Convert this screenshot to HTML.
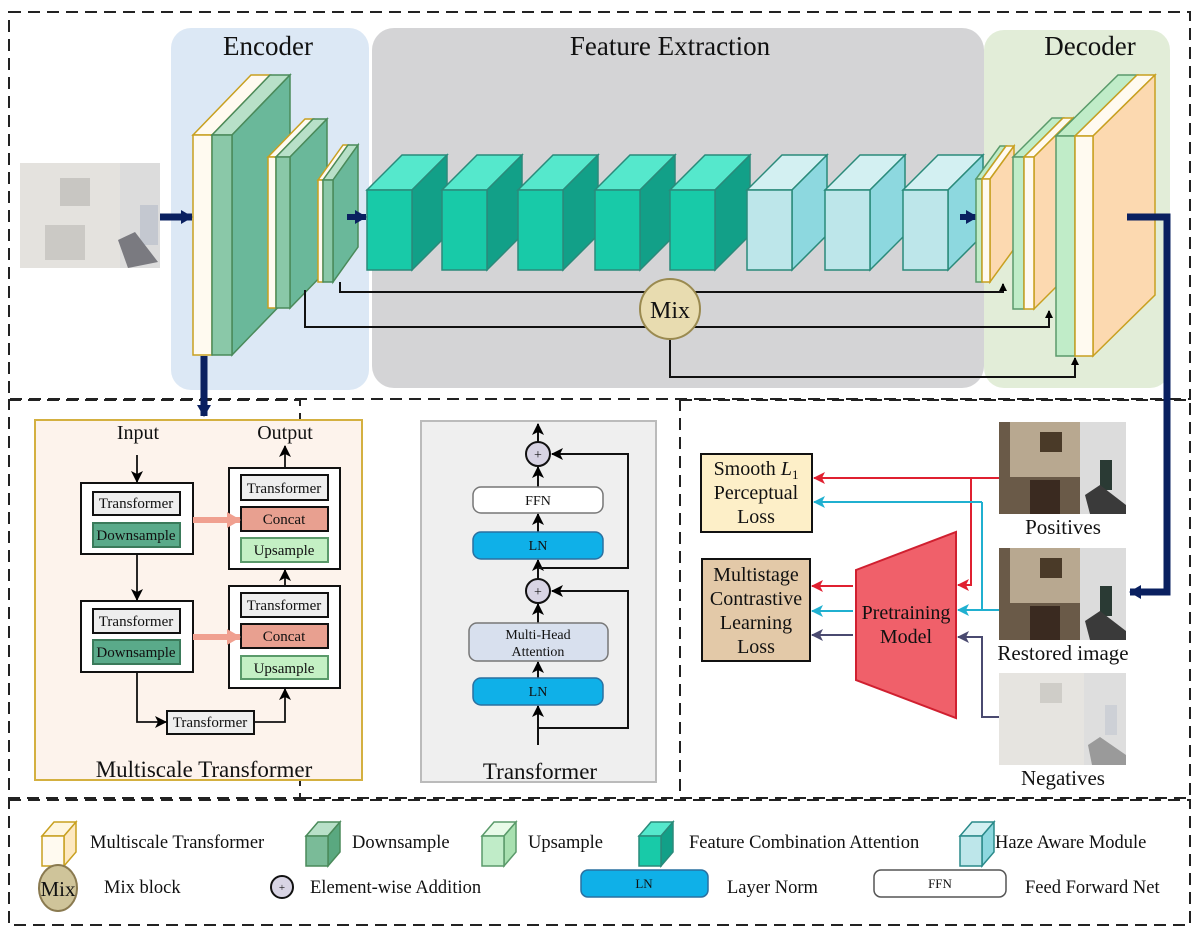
<!DOCTYPE html>
<html><head><meta charset="utf-8"><style>
html,body{margin:0;padding:0;background:#fff;}
svg{display:block;}
text{font-family:"Liberation Serif",serif;fill:#111;}
</style></head><body>
<svg width="1200" height="935" viewBox="0 0 1200 935" xmlns="http://www.w3.org/2000/svg">
<defs>
<marker id="ab" markerWidth="8" markerHeight="8" refX="7" refY="4" orient="auto" markerUnits="userSpaceOnUse"><path d="M0,0 L8,4 L0,8 z" fill="#000"/></marker>
<marker id="ab2" markerWidth="12" markerHeight="12" refX="11" refY="6" orient="auto" markerUnits="userSpaceOnUse"><path d="M0,0 L12,6 L0,12 L3,6 z" fill="#000"/></marker>
<marker id="ar" markerWidth="12" markerHeight="12" refX="11" refY="6" orient="auto" markerUnits="userSpaceOnUse"><path d="M0,0 L12,6 L0,12 L3,6 z" fill="#e02030"/></marker>
<marker id="ac" markerWidth="12" markerHeight="12" refX="11" refY="6" orient="auto" markerUnits="userSpaceOnUse"><path d="M0,0 L12,6 L0,12 L3,6 z" fill="#20b0d0"/></marker>
<marker id="as" markerWidth="12" markerHeight="12" refX="11" refY="6" orient="auto" markerUnits="userSpaceOnUse"><path d="M0,0 L12,6 L0,12 L3,6 z" fill="#4a4a70"/></marker>
<marker id="an" markerWidth="12" markerHeight="14" refX="11" refY="7" orient="auto" markerUnits="userSpaceOnUse"><path d="M0,0 L12,7 L0,14 z" fill="#0a2060"/></marker>
<marker id="ap" markerWidth="14" markerHeight="16" refX="13" refY="8" orient="auto" markerUnits="userSpaceOnUse"><path d="M0,0 L14,8 L0,16 z" fill="#f0a090"/></marker>
</defs>

<g fill="none" stroke="#222" stroke-width="2" stroke-dasharray="12,7">
<rect x="9" y="12" width="1181" height="387"/>
<rect x="9" y="400" width="291" height="398"/>
<rect x="680" y="400" width="510" height="398"/>
<line x1="300" y1="798" x2="680" y2="798"/>
<rect x="9" y="800" width="1181" height="125"/>
</g>

<rect x="171" y="28" width="198" height="362" rx="20" fill="#dce8f5"/>
<rect x="372" y="28" width="612" height="360" rx="22" fill="#d4d4d6"/>
<rect x="984" y="30" width="186" height="358" rx="20" fill="#e2edd8"/>
<text x="268" y="55" font-size="27" text-anchor="middle">Encoder</text>
<text x="670" y="55" font-size="27" text-anchor="middle">Feature Extraction</text>
<text x="1090" y="55" font-size="27" text-anchor="middle">Decoder</text>

<rect x="20" y="163" width="140" height="105" fill="#dcdcdc"/>
<rect x="20" y="163" width="100" height="105" fill="#e4e2de"/>
<rect x="60" y="178" width="30" height="28" fill="#c8c6c2"/>
<rect x="140" y="205" width="18" height="40" fill="#c4c8d0"/>
<rect x="45" y="225" width="40" height="35" fill="#cbc9c5"/>
<path d="M118,240 L135,232 L158,262 L128,268 z" fill="#7a7a80"/>
<line x1="160" y1="217" x2="192" y2="217" stroke="#0a2060" stroke-width="7" marker-end="url(#an)"/>

<g stroke-width="1.5">
<polygon points="193,135 251,75 270,75 212,135" fill="#fffaf0" stroke="#c8a020"/>
<rect x="193" y="135" width="19" height="220" fill="#fffaf0" stroke="#c8a020"/>
<polygon points="212,135 270,75 290,75 232,135" fill="#b8e0c8" stroke="#4a8a5a"/>
<polygon points="232,135 290,75 290,295 232,355" fill="#6ab89a" stroke="#4a8a5a"/>
<rect x="212" y="135" width="20" height="220" fill="#8ac8a8" stroke="#4a8a5a"/>
<polygon points="268,157 305,119 313,119 276,157" fill="#fffaf0" stroke="#c8a020"/>
<rect x="268" y="157" width="8" height="151" fill="#fffaf0" stroke="#c8a020"/>
<polygon points="276,157 313,119 327,119 290,157" fill="#b8e0c8" stroke="#4a8a5a"/>
<polygon points="290,157 327,119 327,270 290,308" fill="#6ab89a" stroke="#4a8a5a"/>
<rect x="276" y="157" width="14" height="151" fill="#8ac8a8" stroke="#4a8a5a"/>
<polygon points="318,180 343,145 348,145 323,180" fill="#fffaf0" stroke="#c8a020"/>
<rect x="318" y="180" width="5" height="102" fill="#fffaf0" stroke="#c8a020"/>
<polygon points="323,180 348,145 358,145 333,180" fill="#b8e0c8" stroke="#4a8a5a"/>
<polygon points="333,180 358,145 358,247 333,282" fill="#6ab89a" stroke="#4a8a5a"/>
<rect x="323" y="180" width="10" height="102" fill="#8ac8a8" stroke="#4a8a5a"/>
</g>
<line x1="347" y1="217" x2="366" y2="217" stroke="#0a2060" stroke-width="6" marker-end="url(#an)"/>

<g stroke="#2a8a7a" stroke-width="1.5">
<g id="tc">
<polygon points="367,190 402,155 447,155 412,190" fill="#55e8cc"/>
<polygon points="412,190 447,155 447,235 412,270" fill="#12a088"/>
<rect x="367" y="190" width="45" height="80" fill="#18caa8"/>
</g>
<use href="#tc" x="75"/>
<use href="#tc" x="151"/>
<use href="#tc" x="228"/>
<use href="#tc" x="303"/>
<g id="hc">
<polygon points="747,190 782,155 827,155 792,190" fill="#d3f0f2"/>
<polygon points="792,190 827,155 827,235 792,270" fill="#8dd8df"/>
<rect x="747" y="190" width="45" height="80" fill="#bde6ea"/>
</g>
<use href="#hc" x="78"/>
<use href="#hc" x="156"/>
</g>
<line x1="960" y1="217" x2="977" y2="217" stroke="#0a2060" stroke-width="6" marker-end="url(#an)"/>

<g stroke-width="1.5">
<polygon points="976,179 1000,146 1006,146 982,179" fill="#c0ecc8" stroke="#5a9a6a"/>
<rect x="976" y="179" width="6" height="103" fill="#c0ecc8" stroke="#5a9a6a"/>
<polygon points="982,179 1006,146 1014,146 990,179" fill="#fffaf0" stroke="#c8a020"/>
<polygon points="990,179 1014,146 1014,249 990,282" fill="#fcd9b0" stroke="#c8a020"/>
<rect x="982" y="179" width="8" height="103" fill="#fffaf0" stroke="#c8a020"/>
<polygon points="1013,157 1052,118 1063,118 1024,157" fill="#c0ecc8" stroke="#5a9a6a"/>
<rect x="1013" y="157" width="11" height="152" fill="#c0ecc8" stroke="#5a9a6a"/>
<polygon points="1024,157 1063,118 1073,118 1034,157" fill="#fffaf0" stroke="#c8a020"/>
<polygon points="1034,157 1073,118 1073,270 1034,309" fill="#fcd9b0" stroke="#c8a020"/>
<rect x="1024" y="157" width="10" height="152" fill="#fffaf0" stroke="#c8a020"/>
<polygon points="1056,136 1118,75 1137,75 1075,136" fill="#c0ecc8" stroke="#5a9a6a"/>
<rect x="1056" y="136" width="19" height="220" fill="#c0ecc8" stroke="#5a9a6a"/>
<polygon points="1075,136 1137,75 1155,75 1093,136" fill="#fffaf0" stroke="#c8a020"/>
<polygon points="1093,136 1155,75 1155,295 1093,356" fill="#fcd9b0" stroke="#c8a020"/>
<rect x="1075" y="136" width="18" height="220" fill="#fffaf0" stroke="#c8a020"/>
</g>

<g fill="none" stroke="#111" stroke-width="2">
<polyline points="340,282 340,292 1003,292 1003,284" marker-end="url(#ab)"/>
<polyline points="305,290 305,327 1049,327 1049,311" marker-end="url(#ab)"/>
<polyline points="670,340 670,377 1075,377 1075,358" marker-end="url(#ab)"/>
</g>
<circle cx="670" cy="309" r="30" fill="#e8dcb0" stroke="#9a8a50" stroke-width="2"/>
<text x="670" y="318" font-size="24" text-anchor="middle">Mix</text>

<line x1="204" y1="356" x2="204" y2="416" stroke="#0a2060" stroke-width="7" marker-end="url(#an)"/>
<polyline points="1127,217 1167,217 1167,592 1130,592" fill="none" stroke="#0a2060" stroke-width="7" marker-end="url(#an)"/>

<rect x="35" y="420" width="327" height="360" fill="#fdf3ec" stroke="#d4b040" stroke-width="2"/>
<text x="138" y="439" font-size="20" text-anchor="middle">Input</text>
<text x="285" y="439" font-size="20" text-anchor="middle">Output</text>
<g stroke="#111" stroke-width="2">
<rect x="81" y="483" width="112" height="71" fill="#fff"/>
<rect x="93" y="492" width="87" height="23" fill="#eeeeee"/>
<rect x="93" y="523" width="87" height="24" fill="#5aaa8a" stroke="#3a7a5a"/>
<rect x="81" y="601" width="112" height="71" fill="#fff"/>
<rect x="93" y="609" width="87" height="24" fill="#eeeeee"/>
<rect x="93" y="640" width="87" height="24" fill="#5aaa8a" stroke="#3a7a5a"/>
<rect x="229" y="468" width="111" height="101" fill="#fff"/>
<rect x="241" y="475" width="87" height="25" fill="#eeeeee"/>
<rect x="241" y="507" width="87" height="24" fill="#e8a090"/>
<rect x="241" y="538" width="87" height="24" fill="#c4f0c4" stroke="#5a9a6a"/>
<rect x="229" y="586" width="111" height="102" fill="#fff"/>
<rect x="241" y="593" width="87" height="24" fill="#eeeeee"/>
<rect x="241" y="624" width="87" height="24" fill="#e8a090"/>
<rect x="241" y="656" width="87" height="23" fill="#c4f0c4" stroke="#5a9a6a"/>
<rect x="167" y="711" width="87" height="23" fill="#eeeeee"/>
</g>
<g font-size="15" text-anchor="middle">
<text x="136" y="508">Transformer</text>
<text x="136" y="540">Downsample</text>
<text x="136" y="626">Transformer</text>
<text x="136" y="657">Downsample</text>
<text x="284" y="493">Transformer</text>
<text x="284" y="524">Concat</text>
<text x="284" y="555">Upsample</text>
<text x="284" y="610">Transformer</text>
<text x="284" y="641">Concat</text>
<text x="284" y="673">Upsample</text>
<text x="210" y="727">Transformer</text>
</g>
<g fill="none" stroke="#111" stroke-width="1.8">
<line x1="137" y1="455" x2="137" y2="482" marker-end="url(#ab2)"/>
<line x1="137" y1="554" x2="137" y2="600" marker-end="url(#ab2)"/>
<polyline points="137,672 137,722 166,722" marker-end="url(#ab2)"/>
<polyline points="254,722 285,722 285,689" marker-end="url(#ab2)"/>
<line x1="285" y1="586" x2="285" y2="570" marker-end="url(#ab2)"/>
<line x1="285" y1="468" x2="285" y2="446" marker-end="url(#ab2)"/>
</g>
<line x1="193" y1="520" x2="240" y2="520" stroke="#f0a090" stroke-width="6" marker-end="url(#ap)"/>
<line x1="193" y1="637" x2="240" y2="637" stroke="#f0a090" stroke-width="6" marker-end="url(#ap)"/>
<text x="204" y="777" font-size="23" text-anchor="middle">Multiscale Transformer</text>

<rect x="421" y="421" width="235" height="361" fill="#efefef" stroke="#bbb" stroke-width="2"/>
<g fill="none" stroke="#111" stroke-width="2">
<line x1="538" y1="745" x2="538" y2="706" marker-end="url(#ab2)"/>
<polyline points="538,728 628,728 628,591 552,591" marker-end="url(#ab2)"/>
<line x1="538" y1="623" x2="538" y2="604" marker-end="url(#ab2)"/>
<line x1="538" y1="678" x2="538" y2="662" marker-end="url(#ab2)"/>
<line x1="538" y1="579" x2="538" y2="560" marker-end="url(#ab2)"/>
<polyline points="538,568 628,568 628,454 552,454" marker-end="url(#ab2)"/>
<line x1="538" y1="532" x2="538" y2="514" marker-end="url(#ab2)"/>
<line x1="538" y1="487" x2="538" y2="467" marker-end="url(#ab2)"/>
<line x1="538" y1="442" x2="538" y2="424" marker-end="url(#ab2)"/>
</g>
<rect x="473" y="487" width="130" height="26" rx="8" fill="#fff" stroke="#777" stroke-width="1.5"/>
<rect x="473" y="532" width="130" height="27" rx="8" fill="#0fb0e8" stroke="#2a70a0" stroke-width="1.5"/>
<rect x="469" y="623" width="139" height="38" rx="8" fill="#d8e0ee" stroke="#777" stroke-width="1.5"/>
<rect x="473" y="678" width="130" height="27" rx="8" fill="#0fb0e8" stroke="#2a70a0" stroke-width="1.5"/>
<circle cx="538" cy="454" r="12" fill="#d8d4e4" stroke="#111" stroke-width="2"/>
<circle cx="538" cy="591" r="12" fill="#d8d4e4" stroke="#111" stroke-width="2"/>
<g font-size="14" text-anchor="middle">
<text x="538" y="459">+</text><text x="538" y="596">+</text>
<text x="538" y="505">FFN</text>
<text x="538" y="550">LN</text>
<text x="538" y="639">Multi-Head</text>
<text x="538" y="656">Attention</text>
<text x="538" y="696">LN</text>
</g>
<text x="540" y="779" font-size="23" text-anchor="middle">Transformer</text>

<rect x="701" y="454" width="111" height="78" fill="#fdefc8" stroke="#111" stroke-width="2"/>
<rect x="702" y="559" width="108" height="102" fill="#e3c9a8" stroke="#111" stroke-width="2"/>
<g font-size="20" text-anchor="middle">
<text x="756" y="475">Smooth <tspan font-style="italic">L</tspan><tspan font-size="13" dy="4">1</tspan></text>
<text x="756" y="499">Perceptual</text>
<text x="756" y="523">Loss</text>
<text x="756" y="581">Multistage</text>
<text x="756" y="605">Contrastive</text>
<text x="756" y="629">Learning</text>
<text x="756" y="653">Loss</text>
</g>
<polygon points="856,570 956,532 956,718 856,680" fill="#f0606a" stroke="#d02030" stroke-width="2"/>
<text x="906" y="619" font-size="20" text-anchor="middle">Pretraining</text>
<text x="906" y="643" font-size="20" text-anchor="middle">Model</text>

<g>
<rect x="999" y="422" width="127" height="92" fill="#6a5a48"/>
<rect x="1010" y="422" width="70" height="55" fill="#b8a890"/>
<rect x="1080" y="422" width="46" height="92" fill="#dcdcdc"/>
<rect x="1040" y="432" width="22" height="20" fill="#4a3a28"/>
<rect x="1030" y="480" width="30" height="34" fill="#3a2a20"/>
<rect x="1100" y="460" width="12" height="30" fill="#2a3a34"/>
<path d="M1085,495 L1100,485 L1126,505 L1126,514 L1090,514 z" fill="#3a3a3a"/>
</g>
<g>
<rect x="999" y="548" width="127" height="92" fill="#6a5a48"/>
<rect x="1010" y="548" width="70" height="55" fill="#b8a890"/>
<rect x="1080" y="548" width="46" height="92" fill="#dcdcdc"/>
<rect x="1040" y="558" width="22" height="20" fill="#4a3a28"/>
<rect x="1030" y="606" width="30" height="34" fill="#3a2a20"/>
<rect x="1100" y="586" width="12" height="30" fill="#2a3a34"/>
<path d="M1085,621 L1100,611 L1126,631 L1126,640 L1090,640 z" fill="#3a3a3a"/>
</g>
<g>
<rect x="999" y="673" width="127" height="92" fill="#dedede"/>
<rect x="999" y="673" width="85" height="92" fill="#e6e4e0"/>
<rect x="1040" y="683" width="22" height="20" fill="#cfcdc8"/>
<rect x="1105" y="705" width="12" height="30" fill="#cdd0d6"/>
<path d="M1088,745 L1100,737 L1126,755 L1126,765 L1092,765 z" fill="#9a9a9a"/>
</g>
<g font-size="21" text-anchor="middle">
<text x="1063" y="534">Positives</text>
<text x="1063" y="660">Restored image</text>
<text x="1063" y="785">Negatives</text>
</g>

<g fill="none" stroke-width="2">
<polyline points="999,478 814,478" stroke="#e02030" marker-end="url(#ar)"/>
<polyline points="971,478 971,585 958,585" stroke="#e02030" marker-end="url(#ar)"/>
<polyline points="982,502 814,502" stroke="#20b0d0" marker-end="url(#ac)"/>
<polyline points="982,502 982,610" stroke="#20b0d0"/>
<polyline points="999,610 958,610" stroke="#20b0d0" marker-end="url(#ac)"/>
<polyline points="999,717 982,717 982,637 958,637" stroke="#4a4a70" marker-end="url(#as)"/>
<line x1="853" y1="586" x2="812" y2="586" stroke="#e02030" marker-end="url(#ar)"/>
<line x1="853" y1="611" x2="812" y2="611" stroke="#20b0d0" marker-end="url(#ac)"/>
<line x1="853" y1="635" x2="812" y2="635" stroke="#4a4a70" marker-end="url(#as)"/>
</g>

<g stroke-width="1.5">
<g transform="translate(42,822)">
<polygon points="0,14 12,0 34,0 22,14" fill="#fff6e0" stroke="#c8a020"/>
<polygon points="22,14 34,0 34,30 22,44" fill="#fde8c0" stroke="#c8a020"/>
<rect x="0" y="14" width="22" height="30" fill="#fffaf0" stroke="#c8a020"/>
</g>
<g transform="translate(306,822)">
<polygon points="0,14 12,0 34,0 22,14" fill="#b8e0c8" stroke="#4a8a5a"/>
<polygon points="22,14 34,0 34,30 22,44" fill="#5aa880" stroke="#4a8a5a"/>
<rect x="0" y="14" width="22" height="30" fill="#7abb98" stroke="#4a8a5a"/>
</g>
<g transform="translate(482,822)">
<polygon points="0,14 12,0 34,0 22,14" fill="#e8fae8" stroke="#5a9a6a"/>
<polygon points="22,14 34,0 34,30 22,44" fill="#a8e0b0" stroke="#5a9a6a"/>
<rect x="0" y="14" width="22" height="30" fill="#c0ecc8" stroke="#5a9a6a"/>
</g>
<g transform="translate(639,822)">
<polygon points="0,14 12,0 34,0 22,14" fill="#55e8cc" stroke="#2a8a7a"/>
<polygon points="22,14 34,0 34,30 22,44" fill="#12a088" stroke="#2a8a7a"/>
<rect x="0" y="14" width="22" height="30" fill="#18caa8" stroke="#2a8a7a"/>
</g>
<g transform="translate(960,822)">
<polygon points="0,14 12,0 34,0 22,14" fill="#d3f0f2" stroke="#2a8a8a"/>
<polygon points="22,14 34,0 34,30 22,44" fill="#8dd8df" stroke="#2a8a8a"/>
<rect x="0" y="14" width="22" height="30" fill="#bde6ea" stroke="#2a8a8a"/>
</g>
</g>
<g font-size="18.5">
<text x="90" y="848">Multiscale Transformer</text>
<text x="352" y="848">Downsample</text>
<text x="528" y="848">Upsample</text>
<text x="689" y="848">Feature Combination Attention</text>
<text x="995" y="848">Haze Aware Module</text>
<text x="104" y="893">Mix block</text>
<text x="310" y="893">Element-wise Addition</text>
<text x="727" y="893">Layer Norm</text>
<text x="1025" y="893">Feed Forward Net</text>
</g>
<ellipse cx="58" cy="888" rx="19" ry="23" fill="#cfc49a" stroke="#8a7a50" stroke-width="2"/>
<text x="58" y="896" font-size="21" text-anchor="middle">Mix</text>
<circle cx="282" cy="887" r="11" fill="#d8d4e4" stroke="#111" stroke-width="2"/>
<text x="282" y="891" font-size="11" text-anchor="middle">+</text>
<rect x="581" y="870" width="127" height="27" rx="7" fill="#0fb0e8" stroke="#2a70a0" stroke-width="1.5"/>
<text x="644" y="888" font-size="13" text-anchor="middle">LN</text>
<rect x="874" y="870" width="132" height="27" rx="7" fill="#fff" stroke="#555" stroke-width="1.5"/>
<text x="940" y="888" font-size="13" text-anchor="middle">FFN</text>
</svg>
</body></html>
